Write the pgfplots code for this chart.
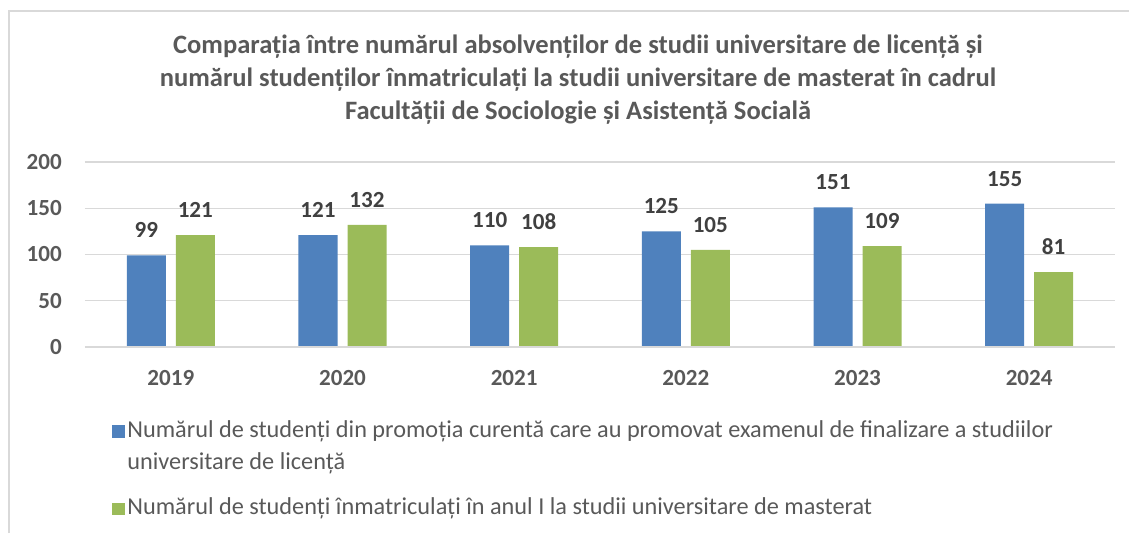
\documentclass[border=0pt]{standalone}
\usepackage{pgfplots}
\pgfplotsset{compat=1.18}
\usepackage{fontspec}
\setmainfont{Carlito}
\definecolor{cblue}{HTML}{4F81BD}
\definecolor{cgreen}{HTML}{9BBB59}
\definecolor{ctext}{HTML}{595959}
\definecolor{clab}{HTML}{404040}
\definecolor{cgrid}{HTML}{D9D9D9}
\begin{document}
\begin{tikzpicture}
\path[use as bounding box] (0pt,0pt) rectangle (846.75pt,399.75pt);
\draw[cgrid, line width=1pt] (6.75pt,0pt) -- (6.75pt,391.5pt) -- (846.75pt,391.5pt);
\node[align=center, font=\fontsize{19.9pt}{24.75pt}\selectfont\bfseries, text=ctext] at (433.5pt,339.75pt)
{Comparația între numărul absolvenților de studii universitare de licență și\\
numărul studenților înmatriculați la studii universitare de masterat în cadrul\\
Facultății de Sociologie și Asistență Socială};
\begin{axis}[
  at={(63.75pt,139.5pt)}, anchor=south west,
  scale only axis, width=772.5pt, height=138.75pt,
  xmin=-0.5, xmax=5.5, ymin=0, ymax=200,
  ytick={0,50,100,150,200},
  xtick={0,1,2,3,4,5},
  xticklabels={2019,2020,2021,2022,2023,2024},
  axis line style={draw=none},
  axis x line*=bottom,
  ymajorgrids, grid style={cgrid, line width=1pt},
  major tick length=0pt,
  /pgf/number format/assume math mode=true,
  ticklabel style={font=\fontsize{17.3pt}{20pt}\selectfont\bfseries, text=ctext},
  yticklabel style={anchor=east, inner sep=0pt, xshift=-17.25pt},
  xticklabel style={anchor=center, inner sep=0pt, yshift=-23.25pt},
  ybar, bar width=29.25pt,
  nodes near coords,
  nodes near coords style={anchor=center, yshift=18.75pt, inner sep=0pt, font=\fontsize{17.3pt}{20pt}\selectfont\bfseries, text=clab},
  legend style={at={(0.026,-0.352)}, anchor=north west, draw=none, fill=none,
    font=\fontsize{18.2pt}{24pt}\selectfont, text=ctext, inner sep=0pt,
    cells={anchor=base west}, row sep=35.75pt,
    /tikz/every even column/.append style={column sep=0pt}},
  legend image code/.code={\fill[#1] (0pt,-0.3pt) rectangle (9.5pt,9.2pt);},
]
\addplot[fill=cblue, draw=none, bar shift=-18.375pt] coordinates {(0,99) (1,121) (2,110) (3,125) (4,151) (5,155)};
\addlegendentry{\begin{tabular}[t]{@{}l@{}}Numărul de studenți din promoția curentă care au promovat examenul de finalizare a studiilor\\universitare de licență\end{tabular}}
\addplot[fill=cgreen, draw=none, bar shift=18.375pt] coordinates {(0,121) (1,132) (2,108) (3,105) (4,109) (5,81)};
\addlegendentry{\begin{tabular}[t]{@{}l@{}}Numărul de studenți înmatriculați în anul I la studii universitare de masterat\end{tabular}}
\draw[cgrid, line width=1pt] (axis cs:-0.5,0) -- (axis cs:5.5,0);
\end{axis}
\end{tikzpicture}
\end{document}
